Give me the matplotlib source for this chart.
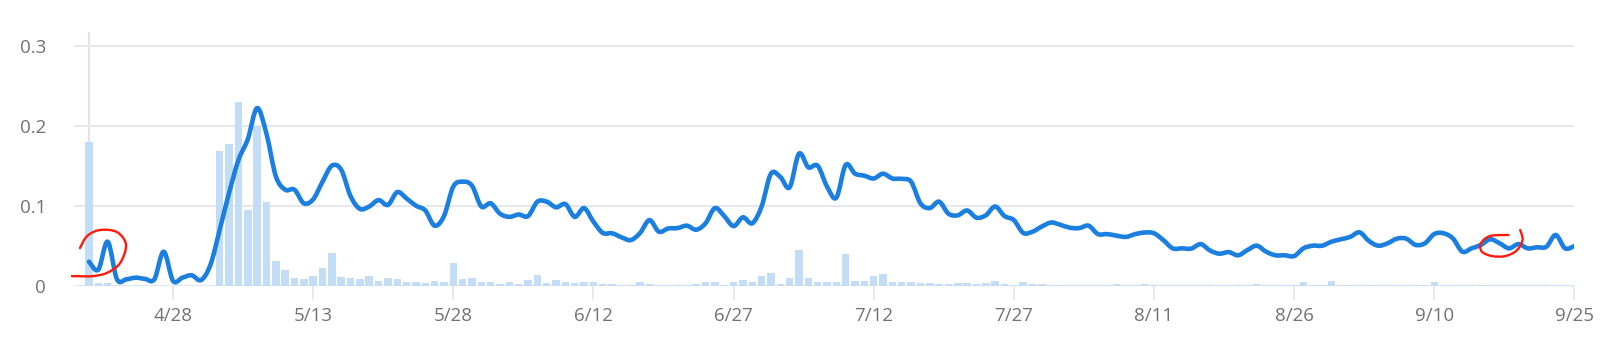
import matplotlib
matplotlib.use("Agg")
import matplotlib.pyplot as plt
import matplotlib.dates as mdates
from matplotlib.path import Path
from matplotlib.patches import PathPatch
import numpy as np
import pandas as pd

"""====================== data read off the chart (one value per day from 4/19) ======================"""
start_date = "2023-04-19"

trend = [0.030, 0.020, 0.055, 0.008, 0.008, 0.010, 0.0085, 0.008, 0.0425, 0.006,
         0.010, 0.013, 0.007, 0.026, 0.070, 0.116, 0.157, 0.183, 0.222, 0.190,
         0.137, 0.120, 0.120, 0.103, 0.108, 0.130, 0.150, 0.145, 0.112, 0.096,
         0.099, 0.107, 0.101, 0.117, 0.109, 0.100, 0.094, 0.075, 0.087, 0.124,
         0.130, 0.125, 0.099, 0.103, 0.090, 0.086, 0.089, 0.087, 0.105, 0.105,
         0.098, 0.102, 0.086, 0.097, 0.080, 0.066, 0.0655, 0.0605, 0.057, 0.066,
         0.082, 0.0675, 0.0715, 0.072, 0.075, 0.070, 0.078, 0.097, 0.087, 0.0745,
         0.0855, 0.078, 0.099, 0.140, 0.136, 0.123, 0.165, 0.148, 0.150, 0.124,
         0.110, 0.151, 0.140, 0.1375, 0.134, 0.140, 0.134, 0.1335, 0.130, 0.103,
         0.097, 0.105, 0.090, 0.088, 0.094, 0.085, 0.088, 0.099, 0.087, 0.082,
         0.066, 0.0675, 0.074, 0.079, 0.076, 0.0725, 0.072, 0.075, 0.0645, 0.0645,
         0.0625, 0.061, 0.0645, 0.0665, 0.0655, 0.057, 0.0467, 0.0467, 0.0464, 0.052,
         0.044, 0.040, 0.042, 0.038, 0.0445, 0.050, 0.0425, 0.038, 0.038, 0.037,
         0.0467, 0.050, 0.050, 0.055, 0.058, 0.061, 0.0667, 0.056, 0.050, 0.053,
         0.0588, 0.0588, 0.051, 0.053, 0.0646, 0.0655, 0.059, 0.0425, 0.0467, 0.051,
         0.058, 0.053, 0.0467, 0.052, 0.0467, 0.048, 0.0487, 0.0634, 0.0467, 0.0496]

daily = [0.180, 0.003, 0.003, 0, 0, 0, 0, 0, 0, 0,
         0, 0, 0, 0, 0.168, 0.177, 0.229, 0.095, 0.200, 0.104,
         0.031, 0.020, 0.010, 0.008, 0.012, 0.022, 0.041, 0.011, 0.010, 0.008,
         0.012, 0.006, 0.009, 0.008, 0.004, 0.005, 0.003, 0.006, 0.005, 0.028,
         0.008, 0.009, 0.004, 0.005, 0.002, 0.004, 0.002, 0.007, 0.0135, 0.003,
         0.007, 0.005, 0.003, 0.005, 0.005, 0.002, 0.002, 0.001, 0.001, 0.005,
         0.002, 0.001, 0.001, 0.001, 0.001, 0.002, 0.004, 0.004, 0.001, 0.004,
         0.007, 0.005, 0.012, 0.0155, 0.002, 0.009, 0.044, 0.009, 0.004, 0.004,
         0.004, 0.040, 0.006, 0.006, 0.0125, 0.0145, 0.005, 0.005, 0.004, 0.003,
         0.003, 0.002, 0.002, 0.003, 0.003, 0.002, 0.003, 0.006, 0.002, 0.001,
         0.005, 0.002, 0.002, 0.001, 0.001, 0.001, 0.001, 0.001, 0.001, 0.001,
         0.002, 0.001, 0.001, 0.002, 0.001, 0.001, 0.001, 0.001, 0.001, 0.001,
         0.001, 0.001, 0.001, 0.001, 0.001, 0.002, 0.001, 0.001, 0.001, 0.001,
         0.004, 0.001, 0.001, 0.006, 0.001, 0.001, 0.001, 0.001, 0.001, 0.001,
         0.001, 0.001, 0.001, 0.001, 0.004, 0.001, 0.001, 0.001, 0.001, 0.001,
         0.001, 0.001, 0.001, 0.001, 0.001, 0.001, 0.001, 0.001, 0.001, 0.001]

tick_labels = ["4/28", "5/13", "5/28", "6/12", "6/27", "7/12", "7/27", "8/11", "8/26", "9/10", "9/25"]
y_ticks = [0, 0.1, 0.2, 0.3]
y_tick_labels = ["0", "0.1", "0.2", "0.3"]

# hand drawn red marks (day offset, value)
mark1_days = [-0.96, -0.2, 1.18, 3.0, 3.97, 3.32, 1.93, 0.43, -0.8, -1.82]
mark1_vals = [0.047, 0.062, 0.0696, 0.067, 0.051, 0.028, 0.016, 0.012, 0.0118, 0.012]
mark2_days = [151.95, 149.98, 149.0, 149.1, 150.2, 151.6, 152.8, 153.45, 153.2]
mark2_vals = [0.0634, 0.0621, 0.053, 0.0425, 0.037, 0.037, 0.0438, 0.057, 0.0696]


def smooth_path(x, y):
    # catmull-rom through the points, drawn as cubic bezier segments
    x = np.asarray(x, float)
    y = np.asarray(y, float)
    pts = np.column_stack([x, y])
    verts = [pts[0]]
    codes = [Path.MOVETO]
    n = len(pts)
    for i in range(n - 1):
        p0 = pts[max(i - 1, 0)]
        p1 = pts[i]
        p2 = pts[i + 1]
        p3 = pts[min(i + 2, n - 1)]
        verts += [p1 + (p2 - p0) / 6.0, p2 - (p3 - p1) / 6.0, p2]
        codes += [Path.CURVE4] * 3
    return Path(verts, codes)


"""====================== plotting ======================"""
dates = pd.date_range(start_date, periods=len(trend))
t0 = dates[0]
xnum = mdates.date2num(dates)
tick_dates = [pd.Timestamp("2023/" + s) for s in tick_labels]

plt.rcParams['font.family'] = ['Open Sans', 'DejaVu Sans']

fig = plt.figure(figsize=(16, 3.46), dpi=100)
ax = fig.add_axes([0.04625, 0.1743, 0.93775, 0.7341])

ax.bar(dates, daily, width=0.8, color="#c3ddf6", zorder=2)
ax.add_patch(PathPatch(smooth_path(xnum, trend), fill=False, edgecolor="#1b7fe0",
                       lw=3.3, capstyle="round", joinstyle="round", zorder=3))

ax.axvline(dates[0], color="#e4e4e8", lw=1.5, zorder=1)
for v in y_ticks:
    ax.axhline(v, color="#e8e8ec" if v > 0 else "#dde5ef", lw=1.5, zorder=1)

x0 = mdates.date2num(t0)
for md, mv in [(mark1_days, mark1_vals), (mark2_days, mark2_vals)]:
    p = PathPatch(smooth_path(x0 + np.array(md), mv), fill=False, edgecolor="#ff1a0a",
                  lw=1.7, capstyle="round", joinstyle="round", zorder=4)
    p.set_clip_on(False)
    ax.add_patch(p)

ax.set_xlim(t0 - pd.Timedelta(days=1.6), dates[-1])
ax.set_ylim(0, 0.3175)
ax.set_xticks(tick_dates)
ax.set_xticklabels(tick_labels)
ax.set_yticks(y_ticks)
ax.set_yticklabels(y_tick_labels)

for s in ax.spines.values():
    s.set_visible(False)
ax.tick_params(axis="x", length=10, width=1.2, color="#e4e4e8", pad=5,
               labelsize=13.5, labelcolor="#727272")
ax.tick_params(axis="y", length=0, pad=20, labelsize=13.5, labelcolor="#727272")

fig.savefig("out.png", dpi=100)
